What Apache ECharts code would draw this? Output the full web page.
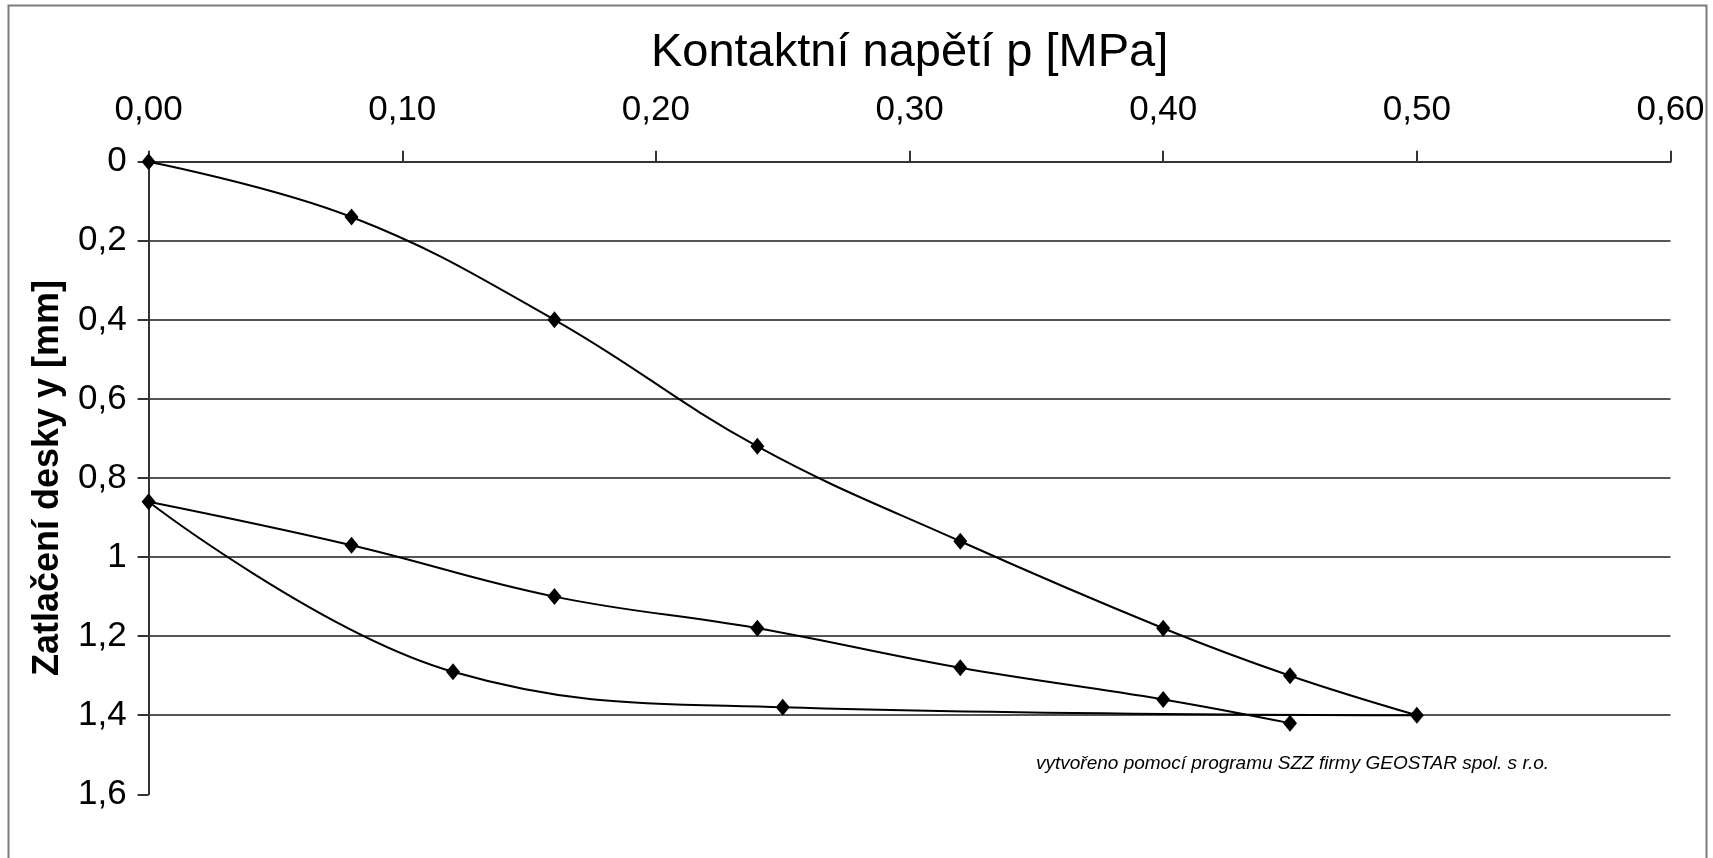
<!DOCTYPE html>
<html>
<head>
<meta charset="utf-8">
<title>Zatěžovací zkouška deskou</title>
<script src="https://cdn.jsdelivr.net/npm/echarts@6/dist/echarts.min.js"></script>
<style>
  html, body { margin: 0; padding: 0; background: #ffffff; }
  #chart { width: 1713px; height: 858px; }
</style>
</head>
<body>
<div id="chart"></div>
<script>
// Contact pressure p [MPa]: loading, unloading, reloading
const pressure = [0, 0.08, 0.16, 0.24, 0.32, 0.40, 0.45, 0.50, 0.25, 0.12, 0, 0.08, 0.16, 0.24, 0.32, 0.40, 0.45];
// Plate settlement y [mm] for each pressure step
const settlement = [0, 0.14, 0.40, 0.72, 0.96, 1.18, 1.30, 1.40, 1.38, 1.29, 0.86, 0.97, 1.10, 1.18, 1.28, 1.36, 1.42];

const xTitle = 'Kontaktní napětí p [MPa]';
const yTitle = 'Zatlačení desky y [mm]';
const footnote = 'vytvořeno pomocí programu SZZ firmy GEOSTAR spol. s r.o.';

const FONT = '"Liberation Sans", Arial, sans-serif';
const points = pressure.map((p, i) => [p, settlement[i]]);

const chart = echarts.init(document.getElementById('chart'), null, { renderer: 'canvas' });

chart.setOption({
  backgroundColor: '#ffffff',
  animation: false,
  grid: { left: 148.6, right: 42.5, top: 161.7, bottom: 63.7, containLabel: false },
  xAxis: {
    type: 'value',
    position: 'top',
    min: 0,
    max: 0.6,
    interval: 0.1,
    name: xTitle,
    nameLocation: 'middle',
    nameGap: 85,
    nameTextStyle: { fontFamily: FONT, fontSize: 47, color: '#000' },
    axisLine: { show: true, lineStyle: { color: '#333', width: 2 } },
    axisTick: { show: true, inside: false, length: 11, lineStyle: { color: '#333', width: 2 } },
    axisLabel: {
      fontFamily: FONT, fontSize: 35, color: '#000', margin: 34,
      formatter: v => v.toFixed(2).replace('.', ',')
    },
    splitLine: { show: false }
  },
  yAxis: {
    type: 'value',
    inverse: true,
    min: 0,
    max: 1.6,
    interval: 0.2,
    name: yTitle,
    nameLocation: 'middle',
    nameGap: 83,
    nameTextStyle: { fontFamily: FONT, fontSize: 36, fontWeight: 'bold', color: '#000' },
    axisLine: { show: true, lineStyle: { color: '#333', width: 2 } },
    axisTick: { show: true, inside: false, length: 11, lineStyle: { color: '#333', width: 2 } },
    axisLabel: {
      fontFamily: FONT, fontSize: 35, color: '#000', margin: 22,
      formatter: v => String(Number(v.toFixed(1))).replace('.', ',')
    },
    splitLine: { show: true, showMinLine: false, showMaxLine: false, lineStyle: { color: '#555', width: 2 } }
  },
  series: [{
    type: 'line',
    data: points,
    smooth: 0.4,
    showSymbol: true,
    symbol: 'diamond',
    symbolSize: [14, 17],
    itemStyle: { color: '#000' },
    lineStyle: { color: '#000', width: 2 },
    clip: false,
    z: 3
  }],
  graphic: [
    {
      type: 'rect',
      shape: { x: 8.5, y: 5.5, width: 1698, height: 870 },
      style: { fill: 'none', stroke: '#7a7a7a', lineWidth: 2 },
      silent: true
    },
    {
      type: 'text',
      left: 1036,
      top: 754,
      style: {
        text: footnote,
        fontFamily: FONT,
        fontStyle: 'italic',
        fontSize: 19,
        fill: '#000'
      }
    }
  ]
});
</script>
</body>
</html>
